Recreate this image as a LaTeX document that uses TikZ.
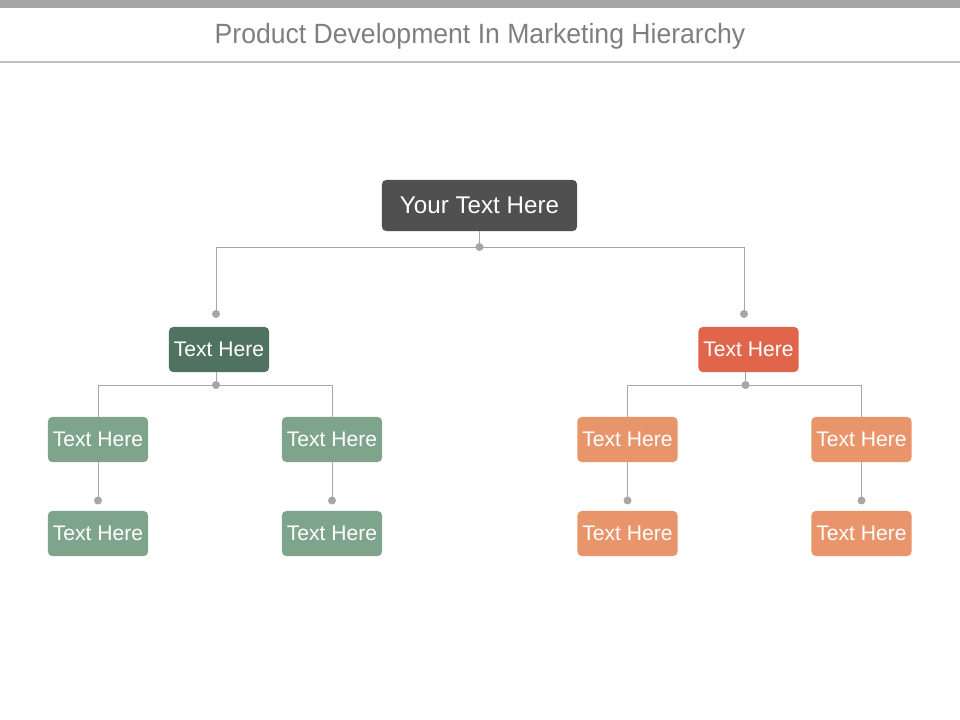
\documentclass[tikz,border=0pt]{standalone}
\usepackage{fontspec}
\setmainfont{Liberation Sans}

\definecolor{rootgray}{HTML}{505050}
\definecolor{darkgreen}{HTML}{507260}
\definecolor{lightgreen}{HTML}{7FA48C}
\definecolor{darkred}{HTML}{E0654A}
\definecolor{lightorange}{HTML}{E9956C}
\definecolor{linegray}{HTML}{A6A6A6}
\definecolor{rulegray}{HTML}{BFBFBF}
\definecolor{titlegray}{HTML}{7F7F7F}

\def\dotsize{0.1cm}

\begin{document}
\begin{tikzpicture}[x=0.025cm,y=-0.025cm,
    box/.style={rounded corners=3pt, text=white, minimum width=2.5cm,
      minimum height=1.125cm, inner sep=0pt, font=\fontsize{15}{17}\selectfont},
    link/.style={draw=linegray, line width=0.7pt},
    knot/.style={fill=linegray}]

    \useasboundingbox (0,0) rectangle (960,720);

    % header
    \fill[linegray] (0,0) rectangle (960,8);
    \node[text=titlegray, font=\fontsize{19.8}{22}\selectfont, xscale=0.955] (title) at (480,36)
      {Product Development In Marketing Hierarchy};
    \draw[rulegray, line width=1.4pt] (0,62) -- (960,62);

    % boxes
    \node[box, fill=rootgray, minimum width=4.875cm, minimum height=1.275cm,
      font=\fontsize{17.2}{19}\selectfont] (top) at (479.5,205.5) {Your Text Here};

    \node[box, fill=darkgreen] (left) at (219,349.5) {Text Here};
    \node[box, fill=darkred] (right) at (748.5,349.5) {Text Here};

    \node[box, fill=lightgreen] (leftA) at (98,439.5) {Text Here};
    \node[box, fill=lightgreen] (leftB) at (332,439.5) {Text Here};
    \node[box, fill=lightorange] (rightA) at (627.5,439.5) {Text Here};
    \node[box, fill=lightorange] (rightB) at (861.5,439.5) {Text Here};

    \node[box, fill=lightgreen] (leftAA) at (98,533.5) {Text Here};
    \node[box, fill=lightgreen] (leftBB) at (332,533.5) {Text Here};
    \node[box, fill=lightorange] (rightAA) at (627.5,533.5) {Text Here};
    \node[box, fill=lightorange] (rightBB) at (861.5,533.5) {Text Here};

    % joints
    \coordinate (topdot) at (top.south |- 0,247);
    \coordinate (leftend) at (216,314);
    \coordinate (rightend) at (744,314);
    \coordinate (leftdot) at (216,385);
    \coordinate (rightdot) at (745.5,385);
    \coordinate (leftAdot) at (leftA.south |- 0,500.5);
    \coordinate (leftBdot) at (leftB.south |- 0,500.5);
    \coordinate (rightAdot) at (rightA.south |- 0,500.5);
    \coordinate (rightBdot) at (rightB.south |- 0,500.5);

    % connectors
    \draw[link] (top.south) -- (topdot);
    \draw[link] (topdot) -| (leftend);
    \draw[link] (topdot) -| (rightend);

    \draw[link] (leftdot |- left.south) -- (leftdot);
    \draw[link] (leftdot) -| (leftA.north);
    \draw[link] (leftdot) -| (leftB.north);
    \draw[link] (rightdot |- right.south) -- (rightdot);
    \draw[link] (rightdot) -| (rightA.north);
    \draw[link] (rightdot) -| (rightB.north);

    \draw[link] (leftA.south) -- (leftAdot);
    \draw[link] (leftB.south) -- (leftBdot);
    \draw[link] (rightA.south) -- (rightAdot);
    \draw[link] (rightB.south) -- (rightBdot);

    \foreach \p in {topdot,leftend,rightend,leftdot,rightdot,
                    leftAdot,leftBdot,rightAdot,rightBdot}
      \fill[knot] (\p) circle (\dotsize);

  \end{tikzpicture}
\end{document}
